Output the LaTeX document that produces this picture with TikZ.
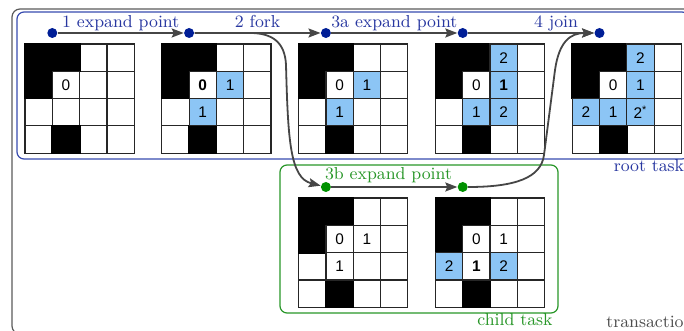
\documentclass[tikz,border=0pt]{standalone}
\usepackage{fontspec}
\newfontfamily\cellfont{Liberation Sans}
\usetikzlibrary{arrows.meta}
\definecolor{rootblue}{RGB}{55,75,175}
\definecolor{dotblue}{RGB}{0,30,150}
\definecolor{labblue}{RGB}{40,55,160}
\definecolor{kidgreen}{RGB}{40,150,40}
\definecolor{dotgreen}{RGB}{0,145,0}
\definecolor{cellblue}{RGB}{140,197,245}
\definecolor{arrowgray}{RGB}{70,70,70}
\definecolor{boxgray}{RGB}{90,90,90}
\tikzset{
  cellbox/.style={draw=black!85, line width=0.6pt, minimum size=13.65pt, inner sep=0pt, outer sep=0pt, fill=white, font=\cellfont\fontsize{7.7}{8}\selectfont},
  bluecell/.style={cellbox, fill=cellblue},
  blackcell/.style={cellbox, fill=black, draw=black, line width=0.9pt},
  rootdot/.style={circle, fill=dotblue, inner sep=0pt, minimum size=5pt},
  kiddot/.style={circle, fill=dotgreen, inner sep=0pt, minimum size=5pt},
  flow/.style={draw=arrowgray, line width=0.9pt, -{Stealth[length=6pt,width=4.5pt,inset=1pt]}},
  steplabel/.style={font=\fontsize{8.65}{10}\selectfont, anchor=base, inner sep=0pt},
}
\newcommand{\basegrid}[3]{%
  \foreach \c in {0,...,3}{\foreach \r in {0,...,3}{
    \node[cellbox] (#1c\c r\r) at ({#2+13.65+27.3*\c},{#3+13.65+27.3*\r}) {};}}
  \foreach \c/\r in {0/0,1/0,0/1,1/3}{
    \node[blackcell] (#1k\c r\r) at ({#2+13.65+27.3*\c},{#3+13.65+27.3*\r}) {};}
}
\begin{document}
\begin{tikzpicture}[x=0.5pt,y=-0.5pt]
\useasboundingbox (0,0) rectangle (684,331);
% boxes
\draw[boxgray, line width=0.6pt, rounded corners=4pt] (12,9) rectangle (694,334);
\draw[rootblue, line width=0.6pt, rounded corners=3.5pt] (17,12) rectangle (689,159);
\draw[kidgreen, line width=0.6pt, rounded corners=3.5pt] (280,165) rectangle (558,313);
\node[anchor=base east, inner sep=0pt, text=labblue, font=\fontsize{8.65}{10}\selectfont] (rootlab) at (684.5,172) {root task};
\node[anchor=base east, inner sep=0pt, text=kidgreen, font=\fontsize{8.65}{10}\selectfont] (kidlab) at (553,325) {child task};
\node[anchor=base west, inner sep=0pt, text=black!70, font=\fontsize{8.65}{10}\selectfont] (txlab) at (606,327) {transaction};
% grids
\basegrid{g1}{25}{44}
\basegrid{g2}{161.8}{44}
\basegrid{g3}{298.6}{44}
\basegrid{g4}{435.4}{44}
\basegrid{g5}{572.2}{44}
\basegrid{h1}{298.6}{198}
\basegrid{h2}{435.4}{198}
% grid 1
\node[cellbox] (g1z) at (g1c1r1) {0};
% grid 2
\node[cellbox] (g2z) at (g2c1r1) {\bfseries 0};
\node[bluecell] (g2a) at (g2c2r1) {1};
\node[bluecell] (g2b) at (g2c1r2) {1};
% grid 3
\node[cellbox] (g3z) at (g3c1r1) {0};
\node[bluecell] (g3a) at (g3c2r1) {1};
\node[bluecell] (g3b) at (g3c1r2) {1};
% grid 4
\node[bluecell] (g4t) at (g4c2r0) {2};
\node[cellbox] (g4z) at (g4c1r1) {0};
\node[bluecell] (g4a) at (g4c2r1) {\bfseries 1};
\node[bluecell] (g4b) at (g4c1r2) {1};
\node[bluecell] (g4c) at (g4c2r2) {2};
% grid 5
\node[bluecell] (g5t) at (g5c2r0) {2};
\node[cellbox] (g5z) at (g5c1r1) {0};
\node[bluecell] (g5a) at (g5c2r1) {1};
\node[bluecell] (g5l) at (g5c0r2) {2};
\node[bluecell] (g5b) at (g5c1r2) {1};
\node[bluecell] (g5c) at (g5c2r2) {2\textsuperscript{*}};
% child grid 1
\node[cellbox] (h1z) at (h1c1r1) {0};
\node[cellbox] (h1a) at (h1c2r1) {1};
\node[cellbox] (h1b) at (h1c1r2) {1};
% child grid 2
\node[cellbox] (h2z) at (h2c1r1) {0};
\node[cellbox] (h2a) at (h2c2r1) {1};
\node[bluecell] (h2l) at (h2c0r2) {2};
\node[cellbox] (h2b) at (h2c1r2) {\bfseries 1};
\node[bluecell] (h2c) at (h2c2r2) {2};
% dots
\node[rootdot] (d1) at (52.3,33) {};
\node[rootdot] (d2) at (189.1,33) {};
\node[rootdot] (d3) at (325.9,33) {};
\node[rootdot] (d4) at (462.7,33) {};
\node[rootdot] (d5) at (599.5,33) {};
\node[kiddot] (e1) at (325.9,187) {};
\node[kiddot] (e2) at (462.7,187) {};
% labels
\node[steplabel, text=labblue] (l1) at (120.7,28) {1 expand point};
\node[steplabel, text=labblue] (l2) at (257.5,28) {2 fork};
\node[steplabel, text=labblue] (l3) at (394.3,28) {3a expand point};
\node[steplabel, text=labblue] (l4) at (556,28) {4 join};
\node[steplabel, text=kidgreen] (l5) at (388.5,180) {3b expand point};
% connectors
\draw[flow] (d1) -- (d2);
\draw[flow] (d2) -- (d3);
\draw[flow] (d3) -- (d4);
\draw[flow] (d4) -- (d5);
\draw[flow] (e1) -- (e2);
\draw[flow] (d2) -- (250,33) .. controls (272,33) and (285,42) .. (286,65) .. controls (288,140) and (290,178) .. (e1);
\draw[flow] (e2) .. controls (515,187) and (541,178) .. (544,155) -- (555,70) .. controls (559,42) and (570,33) .. (d5);
\end{tikzpicture}
\end{document}
